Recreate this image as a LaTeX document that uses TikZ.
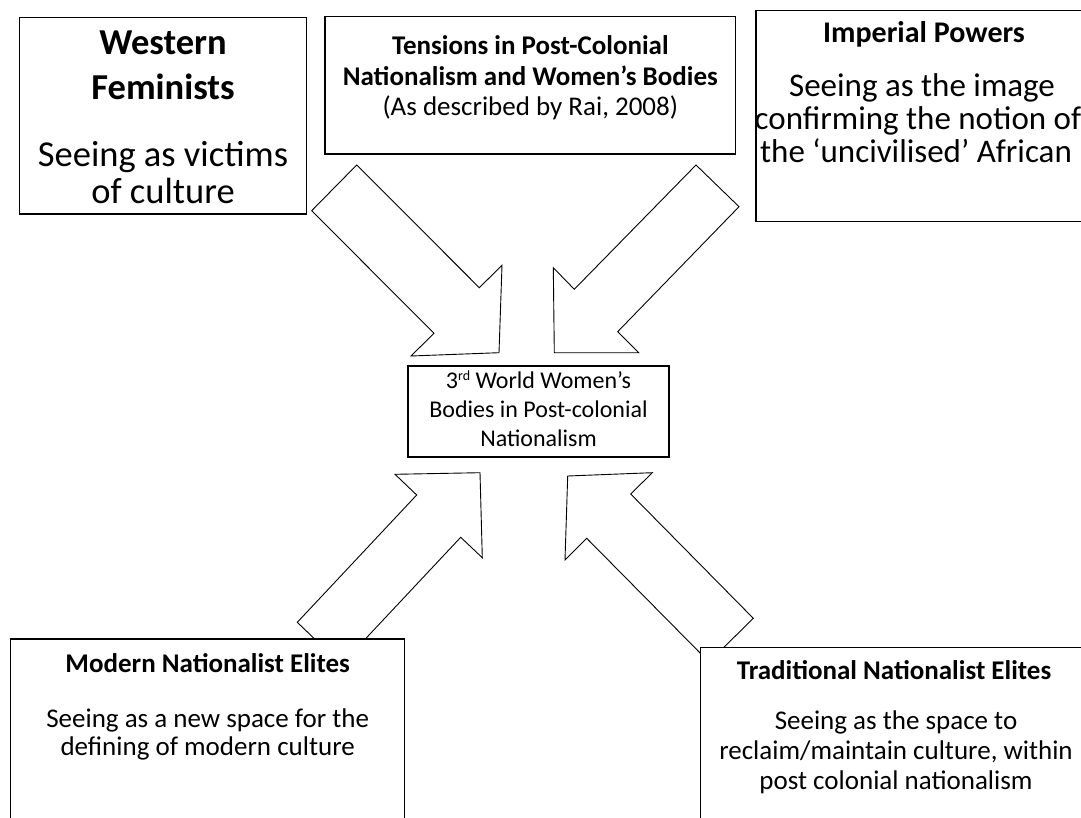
\documentclass[tikz,border=0pt]{standalone}
\usepackage{fontspec}
\setmainfont{Carlito}
\begin{document}
\begin{tikzpicture}[x=1pt,y=-1pt,
  boxs/.style={draw=black, fill=white, line width=1.1pt, inner sep=0pt},
  arr/.style={draw=black, fill=white, line width=0.9pt, line join=miter},
  txt/.style={anchor=base, inner sep=0pt}]
\useasboundingbox (0,0) rectangle (1081,818);
\clip (0,0) rectangle (1081,818);
% arrows
\draw[arr] (356.7,165) -- (479.3,287.7) -- (502,265.3) -- (499,352.7) -- (411,356) -- (434,333.3) -- (311.7,210.7) -- cycle;
\draw[arr] (696,165) -- (739,206.7) -- (617.7,331.7) -- (638.7,352.7) -- (554.3,352.7) -- (553.3,267.7) -- (574.3,289.3) -- cycle;
\draw[arr] (480,472.7) -- (482.3,557.7) -- (460.7,537.3) -- (341.3,664.6) -- (297.3,622.3) -- (416.7,495) -- (395,474.3) -- cycle;
\draw[arr] (567.7,476) -- (652.3,472.7) -- (630.7,494) -- (753.3,618.3) -- (709,662) -- (586.7,538.3) -- (565,560) -- cycle;
% boxes
\node[boxs, minimum width=287.4pt, minimum height=196.7pt] (wf) at (163,115.65) {};
\node[boxs, minimum width=410.7pt, minimum height=137.3pt] (tn) at (530.35,85.35) {};
\node[boxs, minimum width=340pt, minimum height=211pt] (ip) at (926,116.2) {};
\node[boxs, minimum width=261pt, minimum height=91pt] (cb) at (538.5,411.5) {};
\node[boxs, minimum width=393.3pt, minimum height=200pt] (mn) at (207.5,739) {};
\node[boxs, minimum width=400pt, minimum height=200pt] (tr) at (900.7,747.7) {};
% texts
\node[txt, font=\fontsize{36.5}{36.5}\selectfont\bfseries] (wf1) at (163,55) {Western};
\node[txt, font=\fontsize{36.5}{36.5}\selectfont\bfseries] (wf2) at (163,100) {Feminists};
\node[txt, font=\fontsize{36.5}{36.5}\selectfont] (wf3) at (163,167) {Seeing as victims};
\node[txt, font=\fontsize{36.5}{36.5}\selectfont] (wf4) at (163,204) {of culture};
\node[txt, font=\fontsize{27}{27}\selectfont\bfseries] (tn1) at (530.3,55) {Tensions in Post-Colonial};
\node[txt, font=\fontsize{27}{27}\selectfont\bfseries] (tn2) at (530.3,86) {Nationalism and Women’s Bodies};
\node[txt, font=\fontsize{27}{27}\selectfont] (tn3) at (530.3,116) {(As described by Rai, 2008)};
\node[txt, font=\fontsize{30}{30}\selectfont\bfseries] (ip1) at (924,43) {Imperial Powers};
\node[txt, font=\fontsize{33}{33}\selectfont] (ip2) at (922,97) {Seeing as the image};
\node[txt, font=\fontsize{33}{33}\selectfont] (ip3) at (918,130) {confirming the notion of};
\node[txt, font=\fontsize{33}{33}\selectfont] (ip4) at (916,163) {the ‘uncivilised’ African};
\node[txt, font=\fontsize{24}{24}\selectfont] (cb1) at (538.5,388) {3\raisebox{0.33em}{\fontsize{14}{14}\selectfont rd} World Women’s};
\node[txt, font=\fontsize{24}{24}\selectfont] (cb2) at (538.5,417) {Bodies in Post-colonial};
\node[txt, font=\fontsize{24}{24}\selectfont] (cb3) at (538.5,446) {Nationalism};
\node[txt, font=\fontsize{27}{27}\selectfont\bfseries] (mn1) at (207.7,672) {Modern Nationalist Elites};
\node[txt, font=\fontsize{27}{27}\selectfont] (mn2) at (207.7,727) {Seeing as a new space for the};
\node[txt, font=\fontsize{27}{27}\selectfont] (mn3) at (207.7,755) {defining of modern culture};
\node[txt, font=\fontsize{27}{27}\selectfont\bfseries] (tr1) at (894,679) {Traditional Nationalist Elites};
\node[txt, font=\fontsize{27}{27}\selectfont] (tr2) at (896,729) {Seeing as the space to};
\node[txt, font=\fontsize{27}{27}\selectfont] (tr3) at (896,759) {reclaim/maintain culture, within};
\node[txt, font=\fontsize{27}{27}\selectfont] (tr4) at (896,789) {post colonial nationalism};
\end{tikzpicture}
\end{document}
